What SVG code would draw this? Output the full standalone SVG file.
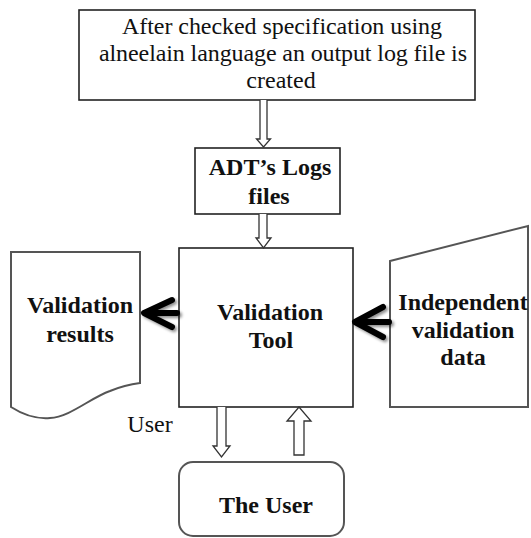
<svg xmlns="http://www.w3.org/2000/svg" width="531" height="538" viewBox="0 0 531 538" font-family="'Liberation Serif', 'Times New Roman', 'DejaVu Serif', serif">
  <defs>
    <filter id="soft" x="-30%" y="-30%" width="160%" height="160%">
      <feGaussianBlur in="SourceAlpha" stdDeviation="1.5"/>
      <feOffset dx="2" dy="2" result="b"/>
      <feComponentTransfer><feFuncA type="linear" slope="0.45"/></feComponentTransfer>
      <feMerge><feMergeNode/><feMergeNode in="SourceGraphic"/></feMerge>
    </filter>
  </defs>
  <style>
    .box { fill: #fff; stroke: #222; stroke-width: 1.6; }
    .shape { fill: #fff; stroke: #555; stroke-width: 2; }
    .hollow { fill: #fff; stroke: #333; stroke-width: 1.3; stroke-linejoin: miter; }
    .thick { fill: none; stroke: #000; stroke-width: 6; stroke-linecap: round; stroke-linejoin: round; }
    text { font-family: 'Liberation Serif', 'Times New Roman', 'DejaVu Serif', serif; font-size: 24px; fill: #111; text-anchor: middle; }
    .b { font-weight: bold; }
  </style>

  <rect width="531" height="538" fill="#fff"/>

  <!-- Specification check node -->
  <g id="spec">
    <rect class="box" x="79" y="10" width="396" height="90"/>
    <text x="282" y="34" textLength="320" lengthAdjust="spacing">After checked specification using</text>
    <text x="283" y="61" textLength="368" lengthAdjust="spacing">alneelain language an output log file is</text>
    <text x="281" y="88">created</text>
  </g>

  <!-- Log files node -->
  <g id="logs">
    <rect class="box" x="195" y="148" width="145" height="66"/>
    <text class="b" x="270" y="175">ADT’s Logs</text>
    <text class="b" x="269" y="204">files</text>
  </g>

  <!-- Validation tool node -->
  <g id="tool">
    <rect class="box" x="179" y="248" width="174" height="159"/>
    <text class="b" x="270" y="320" textLength="106" lengthAdjust="spacing">Validation</text>
    <text class="b" x="271" y="348">Tool</text>
  </g>

  <!-- Results document node -->
  <g id="results">
    <path class="shape" d="M11,252 H140 V383 C132,384 122,386 110,391 C90,398 70,417 50,418 C38,419 25,416 11,407 Z"/>
    <text class="b" x="80" y="313" textLength="106" lengthAdjust="spacing">Validation</text>
    <text class="b" x="80" y="342">results</text>
  </g>

  <!-- Independent data manual-input node -->
  <g id="data">
    <polygon class="shape" points="390,261 528,226 528,407 390,407"/>
    <text class="b" x="463" y="310">Independent</text>
    <text class="b" x="463" y="338">validation</text>
    <text class="b" x="463" y="365">data</text>
  </g>

  <!-- User node -->
  <g id="user">
    <rect class="shape" x="179" y="462" width="165" height="74" rx="14" ry="14"/>
    <text class="b" x="266" y="513">The User</text>
  </g>

  <!-- Free label -->
  <text x="150" y="432">User</text>

  <!-- Connectors -->
  <g id="connectors">
    <path class="hollow" d="M260,100 V139 H256.5 L263.5,147 L270.5,139 H267 V100"/>
    <path class="hollow" d="M259,214 V238 H256 L263.5,248 L271,238 H267 V214"/>
    <path class="hollow" d="M217,407 V446 H213 L221.5,457 L230,446 H226 V407"/>
    <path class="hollow" d="M294,455 V421 H287 L299,407 L311,421 H304 V455 Z"/>
    <g filter="url(#soft)">
      <path class="thick" d="M177,313 H145 M172,300 L144,313 L172,327"/>
      <path class="thick" d="M389,322 H356 M383,307 L355,322 L383,337"/>
    </g>
  </g>
</svg>
